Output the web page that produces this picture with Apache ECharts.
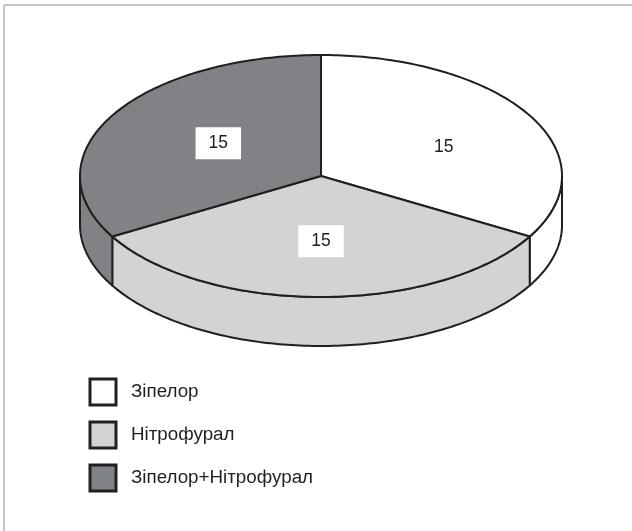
<!DOCTYPE html>
<html><head><meta charset="utf-8">
<script src="https://cdn.jsdelivr.net/npm/echarts@6/dist/echarts.min.js"></script>
<style>html,body{margin:0;padding:0;background:#fff}#c{width:632px;height:531px}</style>
</head><body><div id="c"></div>
<script>
// ---- data ----
const categories = ['Зіпелор', 'Нітрофурал', 'Зіпелор+Нітрофурал'];
const values = [15, 15, 15];
const colors = ['#ffffff', '#d1d3d4', '#808285'];

// ---- layout (styles / geometry, not data) ----
const CX = 321, CY = 176, RX = 241, RY = 121, DEPTH = 49, LABEL_R = 0.54;
const INK = '#231f20';

const total = values.reduce((a, b) => a + b, 0);
const starts = [];
let acc = 0;
values.forEach(v => { starts.push(acc / total * 360); acc += v; });

function pt(deg, dy) {
  const t = deg * Math.PI / 180;
  return [CX + RX * Math.sin(t), CY - RY * Math.cos(t) + (dy || 0)];
}
function arc(a, b, dy) {
  const pts = [];
  const n = Math.max(2, Math.ceil(Math.abs(b - a)));
  for (let i = 0; i <= n; i++) pts.push(pt(a + (b - a) * i / n, dy));
  return pts;
}

const series = categories.map((name, i) => ({
  type: 'custom',
  name: name,
  coordinateSystem: 'none',
  itemStyle: { color: colors[i] },
  data: [[values[i], i]],
  renderItem: function (params, api) {
    const idx = api.value(1);
    const a = starts[idx];
    const b = a + api.value(0) / total * 360;
    const children = [];
    // side wall (front half: 90..270 degrees)
    const s = Math.max(a, 90), e = Math.min(b, 270);
    if (e > s) {
      const top = arc(s, e, 0);
      const bot = arc(e, s, DEPTH);
      children.push({
        type: 'polygon',
        shape: { points: top.concat(bot) },
        style: { fill: colors[idx], stroke: INK, lineWidth: 2, lineJoin: 'round' }
      });
    }
    // top sector
    children.push({
      type: 'polygon',
      shape: { points: [[CX, CY]].concat(arc(a, b, 0)) },
      style: { fill: colors[idx], stroke: INK, lineWidth: 2, lineJoin: 'round' }
    });
    // label
    const mid = (a + b) / 2 * Math.PI / 180;
    children.push({
      type: 'text',
      x: CX + RX * LABEL_R * Math.sin(mid) + (Math.abs(Math.sin(mid)) > 0.1 ? 10 : 0),
      y: CY - RY * LABEL_R * Math.cos(mid) + (Math.sin(mid) > 0.1 ? 4 : 0),
      style: {
        text: String(api.value(0)),
        fontSize: 17.5,
        fontFamily: 'Liberation Sans, Arial, sans-serif',
        fill: INK,
        align: 'center',
        verticalAlign: 'middle',
        backgroundColor: '#ffffff',
        padding: [7, 13, 7, 13]
      }
    });
    return { type: 'group', children: children };
  }
}));

const chart = echarts.init(document.getElementById('c'), null, { renderer: 'canvas' });
chart.setOption({
  animation: false,
  backgroundColor: '#ffffff',
  graphic: [
    { type: 'line', shape: { x1: 4, y1: 5, x2: 632, y2: 5 }, style: { stroke: '#b3b3b3', lineWidth: 1.5 } },
    { type: 'line', shape: { x1: 4, y1: 5, x2: 4, y2: 531 }, style: { stroke: '#b3b3b3', lineWidth: 1.5 } }
  ],
  legend: {
    orient: 'vertical',
    left: 88.5,
    top: 377.5,
    padding: 0,
    itemWidth: 26,
    itemHeight: 26,
    itemGap: 14,
    icon: 'rect',
    selectedMode: false,
    data: categories,
    itemStyle: { borderColor: INK, borderWidth: 3 },
    textStyle: { fontSize: 18.8, fontFamily: 'Liberation Sans, Arial, sans-serif', color: INK, padding: [0, 0, 0, 10] }
  },
  series: series
});
</script>
</body></html>
